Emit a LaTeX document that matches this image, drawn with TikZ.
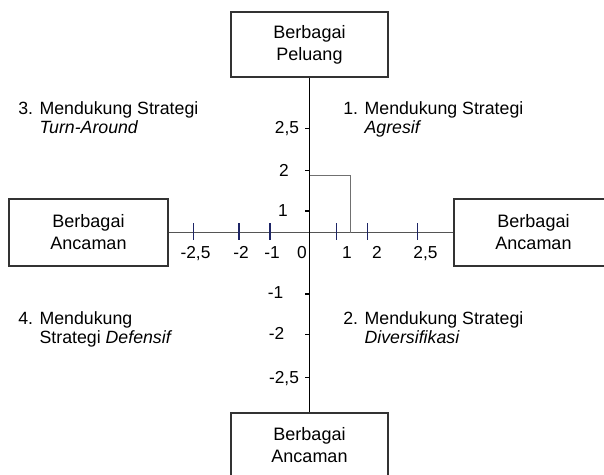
\documentclass[tikz,border=0pt]{standalone}
\usepackage{fontspec}
\setmainfont{Liberation Sans}
\usetikzlibrary{positioning}
\definecolor{tickblue}{HTML}{1E2566}
\definecolor{axisgray}{HTML}{555555}
\definecolor{markgray}{HTML}{707070}

\begin{document}
\begin{tikzpicture}[x=0.75pt, y=-0.75pt,
  box/.style={draw=black!80, line width=0.8pt, inner sep=0pt,
              minimum width=117.75pt, minimum height=48.75pt,
              align=center, font=\fontsize{13.5}{16.5}\selectfont},
  sidebox/.style={box, minimum width=119.25pt, minimum height=50.25pt},
  quad/.style={inner sep=0pt, align=left, anchor=base west,
               font=\fontsize{13.3}{14.25}\selectfont},
  num/.style={inner sep=0pt, anchor=base,
              font=\fontsize{13}{14.25}\selectfont}
]
  \useasboundingbox (0,0) rectangle (604,475);
  \clip (0,0) rectangle (604,475);

  % the four boxes
  \node[box] (peluang) at (309.5,44.5) {Berbagai\\Peluang};
  \node[sidebox] (ancamanL) at (88.5,232.5) {Berbagai\\Ancaman};
  \node[sidebox] (ancamanR) at (533.5,232.5) {Berbagai\\Ancaman};
  \node[box] (ancamanB) at (309.5,445.5) {Berbagai\\Ancaman};

  % axes
  \draw[axisgray, line width=0.9pt] (ancamanL.east) -- (ancamanR.west);
  \draw[black, line width=0.9pt] (peluang.south) -- (ancamanB.north);

  % ticks on the horizontal axis
  \foreach \x in {193.3, 239, 270, 336.7, 367.3, 417.7}
    \draw[tickblue, line width=1pt] (\x,223.3) -- (\x,240);
  \foreach \x/\lbl [count=\i] in {195.5/-2{,}5, 241/-2, 272/-1, 302/0,
                                  347/1, 377/2, 425.5/2{,}5}
    \node[num] (hx\i) at (\x,258) {\lbl};

  % ticks on the vertical axis
  \foreach \y in {128.3, 170.7, 211, 294, 334.3, 377.7}
    \draw[black, line width=1pt] (305,\y) -- (309.5,\y);
  \foreach \x/\y/\lbl [count=\i] in {287/133/2{,}5, 284/176/2, 283/216/1,
                                     275.5/298.5/-1, 276.5/339.5/-2,
                                     284/383/-2{,}5}
    \node[num] (vy\i) at (\x,\y) {\lbl};

  % position of the point
  \coordinate (pt) at (350.7,175.7);
  \draw[markgray, line width=1pt]
    (pt -| peluang.south) -- (pt) -- (pt |- ancamanL.east);

  % quadrant labels (base = last line)
  \node[quad] (q1) at (343,133)
    {1. Mendukung Strategi\\\phantom{1. }\textit{Agresif}};
  \node[quad] (q3) at (18,133)
    {3. Mendukung Strategi\\\phantom{3. }\textit{Turn-Around}};
  \node[quad] (q4) at (18,343)
    {4. Mendukung\\\phantom{4. }Strategi \textit{Defensif}};
  \node[quad] (q2) at (343,343)
    {2. Mendukung Strategi\\\phantom{2. }\textit{Diversifikasi}};
\end{tikzpicture}
\end{document}
